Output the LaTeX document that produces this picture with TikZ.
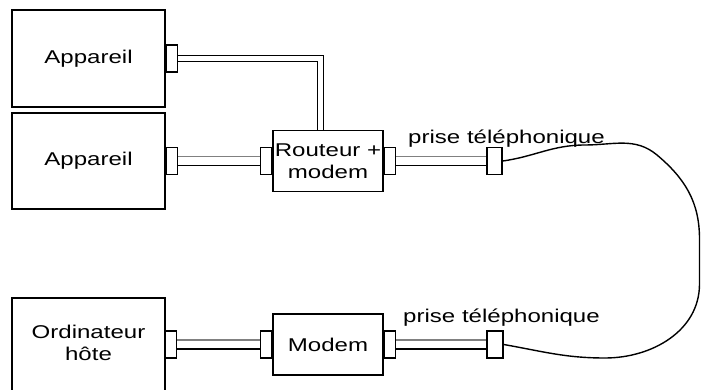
\documentclass[tikz,border=0pt]{standalone}
\usepackage{fontspec}
\setmainfont{Liberation Sans}[FakeStretch=1.3]
\usetikzlibrary{positioning}

\begin{document}
\begin{tikzpicture}[x=1pt, y=1pt, line join=miter, font=\fontsize{18.5}{22.5}\selectfont,
  box/.style={draw, line width=1.8pt, minimum width=153pt, minimum height=97pt, inner sep=0pt, align=center},
  unit/.style={draw, line width=1.8pt, minimum width=110pt, minimum height=61pt, inner sep=0pt, align=center},
  port/.style={draw, fill=white, line width=1.4pt, minimum width=11pt, minimum height=27pt, inner sep=0pt},
  jack/.style={port, minimum width=15pt},
  label/.style={inner sep=0pt},
  wire/.style={postaction={draw=gray, line width=1.1pt, transform canvas={yshift=4.5pt}},
               postaction={draw=black, line width=1.1pt, transform canvas={yshift=-4.5pt}}},
  cord/.style={draw, line width=1.3pt, double=white, double distance=4.7pt},
  line/.style={draw, line width=1.4pt}]
  \useasboundingbox (0,0) rectangle (701,389);
  \clip (0,0) rectangle (701,389);

  \node[box] (app1) at (88.5,330.5) {Appareil};
  \node[box, minimum height=96pt] (app2) at (88.5,228) {Appareil};
  \node[box, minimum height=103pt, anchor=north] (host) at (88.5,92) {};
  \node[align=center] (hosttext) at (88.5,46) {Ordinateur\\hôte};

  \node[unit] (router) at (328,228) {Routeur +\\modem};
  \node[unit] (modem) at (328,44.5) {Modem};

  \node[port, right=0pt of app1] (pa1) {};
  \node[port, right=0pt of app2] (pa2) {};
  \node[port, anchor=west] (ph) at (165,44.5) {};
  \node[port, left=0pt of router] (pr1) {};
  \node[port, right=0pt of router] (pr2) {};
  \node[port, left=0pt of modem] (pm1) {};
  \node[port, right=0pt of modem] (pm2) {};
  \node[jack] (jack1) at (494.5,228) {};
  \node[jack, minimum width=16pt] (jack2) at (495,44.5) {};

  \node[label, anchor=base] (lab1) at (506.5,246) {prise téléphonique};
  \node[label, anchor=base] (lab2) at (501.5,67) {prise téléphonique};

  \path[wire] (pa2.east) -- (pr1.west);
  \path[wire] (pr2.east) -- (jack1.west);
  \path[wire] (ph.east) -- (pm1.west);
  \path[wire] (pm2.east) -- (jack2.west);

  \path[cord] (pa1.east) -| ([xshift=-7.5pt]router.north);
  \path[line] (jack1.east) to[out=8,in=180] (585,244) to[out=0,in=140] (657,234)
    to[out=-40,in=90] (699.5,150) -- (699.5,105) to[out=-90,in=0] (605,31)
    to[out=180,in=-10] (jack2.east);
\end{tikzpicture}
\end{document}
